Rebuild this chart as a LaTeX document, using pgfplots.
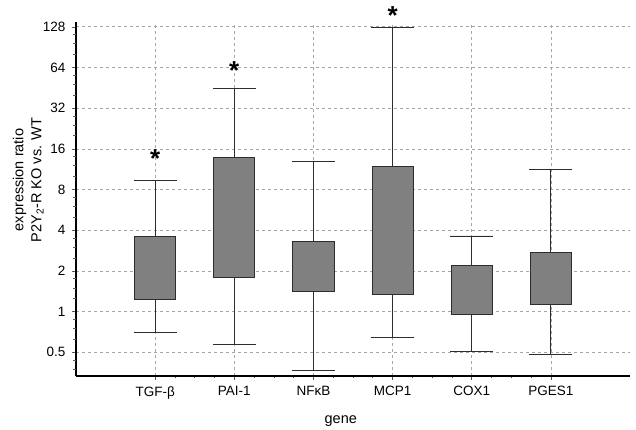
\documentclass[border=0pt]{standalone}
\usepackage{pgfplots}
\pgfplotsset{compat=1.18}
\usepgfplotslibrary{statistics}
\usepackage{fontspec}
\setmainfont{Liberation Sans}
\definecolor{boxfill}{RGB}{128,128,128}
\definecolor{boxedge}{RGB}{45,45,45}
\definecolor{gridc}{RGB}{165,165,165}
\begin{document}
\begin{tikzpicture}
\useasboundingbox (-76pt,-53pt) rectangle (560pt,376pt);
\begin{axis}[
  scale only axis, width=554pt, height=354pt,
  xmin=0, xmax=7,
  ymode=log, log basis y=2,
  ymin=0.334, ymax=139,
  axis x line=bottom, axis y line=left,
  axis line style={-, line width=1.4pt, black},
  xtick={1,2,3,4,5,6},
  xticklabels={TGF-β, PAI-1, NFκB, MCP1, COX1, PGES1},
  minor x tick num=3,
  ytick={0.5,1,2,4,8,16,32,64,128},
  yticklabels={0.5,1,2,4,8,16,32,64,128},
  extra y ticks={0.3125,0.375,0.4375,0.625,0.75,0.875,1.25,1.5,1.75,2.5,3,3.5,5,6,7,10,12,14,20,24,28,40,48,56,80,96,112},
  extra y tick labels={},
  extra y tick style={major tick length=2.5pt, ymajorgrids=false},
  tick align=outside,
  major tick length=4pt, minor tick length=2.5pt,
  tick style={gray!70!black, line width=0.6pt},
  grid=major,
  major grid style={gridc, dash pattern=on 3pt off 3pt, line width=0.7pt},
  /pgf/number format/assume math mode=true,
  tick label style={font=\fontsize{13.5}{15}\selectfont},
  xticklabel style={yshift=-3pt},
  yticklabel style={xshift=-3pt},
  label style={font=\fontsize{14.5}{18}\selectfont},
  xlabel={gene},
  xlabel style={at={(axis description cs:0.478,0)}, anchor=center, yshift=-45pt},
  ylabel={expression ratio\\P2Y\textsubscript{2}-R KO vs. WT},
  ylabel style={align=center, at={(axis description cs:-0.052,0.554)}, anchor=south},
  clip=false,
  boxplot/draw direction=y,
  boxplot/box extend=0.52,
  boxplot/whisker extend=0.54,
]
\addplot[boxplot prepared={lower whisker=0.70, lower quartile=1.23, median=1.23, upper quartile=3.58, upper whisker=9.3, draw position=1}, fill=boxfill, draw=boxedge, line width=0.8pt] coordinates {};
\addplot[boxplot prepared={lower whisker=0.57, lower quartile=1.79, median=1.79, upper quartile=13.9, upper whisker=45, draw position=2}, fill=boxfill, draw=boxedge, line width=0.8pt] coordinates {};
\addplot[boxplot prepared={lower whisker=0.366, lower quartile=1.40, median=1.40, upper quartile=3.29, upper whisker=13.0, draw position=3}, fill=boxfill, draw=boxedge, line width=0.8pt] coordinates {};
\addplot[boxplot prepared={lower whisker=0.64, lower quartile=1.34, median=1.34, upper quartile=11.8, upper whisker=127, draw position=4}, fill=boxfill, draw=boxedge, line width=0.8pt] coordinates {};
\addplot[boxplot prepared={lower whisker=0.505, lower quartile=0.96, median=0.96, upper quartile=2.19, upper whisker=3.63, draw position=5}, fill=boxfill, draw=boxedge, line width=0.8pt] coordinates {};
\addplot[boxplot prepared={lower whisker=0.48, lower quartile=1.13, median=1.13, upper quartile=2.73, upper whisker=11.2, draw position=6}, fill=boxfill, draw=boxedge, line width=0.8pt] coordinates {};
\addplot[draw=none, mark=none, nodes near coords={\fontsize{26}{26}\selectfont\bfseries *},
  every node near coord/.style={anchor=center, yshift=-5pt}] coordinates {(1,14.9) (2,66.7) (4,168)};
\end{axis}
\end{tikzpicture}
\end{document}
